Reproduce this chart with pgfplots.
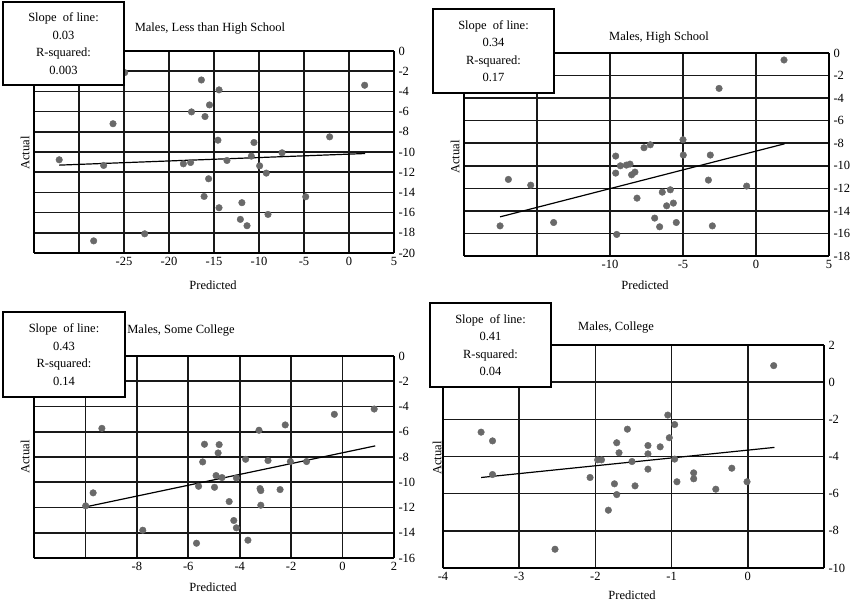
\documentclass[border=0pt]{standalone}
\usepackage{pgfplots}
\pgfplotsset{compat=1.18}
\usepackage{fontspec}
\setmainfont{Liberation Serif}
\definecolor{markgray}{RGB}{105,105,105}
\definecolor{gridc}{RGB}{25,25,25}
\newcommand{\fs}{\fontsize{12.5}{17.5}\selectfont}
\pgfplotsset{
  panel/.style={
    scale only axis,
    anchor=south west,
    separate axis lines,
    axis line style={line width=2pt, black},
    grid=major,
    grid style={line width=1.6pt, gridc},
    major grid style={line width=1.6pt, gridc},
    major tick length=0pt,
    yticklabel pos=right,
    tick label style={font=\fs},
    /pgf/number format/assume math mode=true,
    yticklabel style={xshift=1pt},
    xticklabel style={yshift=-1pt},
    clip=false,
  },
  pts/.style={only marks, mark=*, mark size=3.3pt, mark options={fill=markgray, draw=markgray}},
  trend/.style={black, line width=1.2pt, no marks},
}
\begin{document}
\begin{tikzpicture}
\useasboundingbox (0,0) rectangle (855pt,606pt);

% Panel 1
\begin{axis}[panel, at={(34pt,353pt)}, width=360pt, height=202pt,
  xmin=-35, xmax=5, ymin=-20, ymax=0,
  xtick={-35,-30,...,5}, xticklabels={,,-25,-20,-15,-10,-5,0,5},
  ytick={-20,-18,...,0}]
\addplot[pts] coordinates {
(-32.2,-10.77) (-28.37,-18.8) (-27.26,-11.33) (-26.22,-7.2) (-24.93,-2.14)
(-22.7,-18.1) (-18.4,-11.17) (-17.6,-11.04) (-17.5,-6.03) (-16.4,-2.87)
(-16.0,-6.49) (-16.1,-14.4) (-15.6,-12.65) (-15.5,-5.34) (-14.56,-8.83)
(-14.44,-3.85) (-14.44,-15.52) (-13.56,-10.84) (-12.07,-16.67) (-11.9,-15.02)
(-11.33,-17.3) (-10.85,-10.41) (-10.56,-9.06) (-9.93,-11.37) (-9.19,-12.09)
(-9.0,-16.18) (-7.44,-10.08) (-4.81,-14.43) (-2.15,-8.5) (1.74,-3.39)};
\addplot[trend] coordinates {(-32.2,-11.3) (1.8,-10.15)};
\end{axis}

% Panel 2
\begin{axis}[panel, at={(464pt,350pt)}, width=365pt, height=203pt,
  xmin=-20, xmax=5, ymin=-18, ymax=0,
  xtick={-20,-15,...,5}, xticklabels={,,-10,-5,0,5},
  ytick={-18,-16,...,0}]
\addplot[pts] coordinates {
(-17.53,-15.33) (-16.96,-11.21) (-15.43,-11.72) (-13.86,-15.03) (-9.61,-9.14)
(-9.61,-10.65) (-9.54,-16.09) (-9.29,-10.0) (-8.88,-9.94) (-8.63,-9.85)
(-8.52,-10.8) (-8.29,-10.56) (-8.15,-12.87) (-7.67,-8.4) (-7.24,-8.14)
(-6.94,-14.64) (-6.6,-15.41) (-6.42,-12.34) (-6.12,-13.55) (-5.87,-12.13)
(-5.66,-13.31) (-5.46,-15.03) (-5.0,-7.69) (-4.98,-9.05) (-3.26,-11.27)
(-3.13,-9.05) (-2.99,-15.33) (-2.53,-3.14) (-0.64,-11.8) (1.92,-0.62)};
\addplot[trend] coordinates {(-17.53,-14.53) (1.96,-8.05)};
\end{axis}

% Panel 3
\begin{axis}[panel, at={(34pt,48pt)}, width=360pt, height=202pt,
  xmin=-12, xmax=2, ymin=-16, ymax=0,
  xtick={-12,-10,...,2}, xticklabels={,,-8,-6,-4,-2,0,2},
  ytick={-16,-14,...,0}]
\addplot[pts] coordinates {
(-9.99,-11.87) (-9.7,-10.84) (-9.36,-5.73) (-7.77,-13.8) (-5.68,-14.83)
(-5.6,-10.32) (-5.44,-8.39) (-5.37,-6.99) (-4.98,-10.4) (-4.92,-9.47)
(-4.84,-7.68) (-4.8,-7.02) (-4.69,-9.63) (-4.41,-11.53) (-4.23,-13.03)
(-4.13,-13.61) (-4.13,-9.66) (-3.77,-8.18) (-3.68,-14.59) (-3.25,-5.88)
(-3.21,-10.5) (-3.18,-10.66) (-3.18,-11.82) (-2.9,-8.28) (-2.43,-10.58)
(-2.23,-5.46) (-2.03,-8.36) (-1.4,-8.36) (-0.32,-4.62) (1.23,-4.2)};
\addplot[trend] coordinates {(-9.99,-11.95) (1.27,-7.12)};
\end{axis}

% Panel 4
\begin{axis}[panel, at={(443pt,38pt)}, width=381pt, height=223pt,
  xmin=-4, xmax=1, ymin=-10, ymax=2,
  xtick={-4,-3,...,1}, xticklabels={-4,-3,-2,-1,0,},
  ytick={-10,-8,...,2}]
\addplot[pts] coordinates {
(-3.5,-2.69) (-3.35,-3.16) (-3.35,-4.97) (-2.53,-8.99) (-2.07,-5.13)
(-1.97,-4.18) (-1.92,-4.18) (-1.83,-6.89) (-1.75,-5.47) (-1.72,-3.26)
(-1.72,-6.05) (-1.69,-3.8) (-1.58,-2.53) (-1.52,-4.27) (-1.48,-5.58)
(-1.31,-3.41) (-1.31,-3.86) (-1.31,-4.68) (-1.15,-3.48) (-1.05,-1.77)
(-1.03,-2.99) (-0.96,-2.28) (-0.96,-4.14) (-0.93,-5.36) (-0.71,-4.88)
(-0.71,-5.2) (-0.42,-5.76) (-0.21,-4.63) (-0.01,-5.36) (0.34,0.89)};
\addplot[trend] coordinates {(-3.5,-5.13) (0.35,-3.51)};
\end{axis}

% Titles
\node[font=\fs] at (210pt,577pt) {Males, Less than High School};
\node[font=\fs] at (659pt,568pt) {Males, High School};
\node[font=\fs] at (181pt,275pt) {Males, Some College};
\node[font=\fs] at (616pt,278pt) {Males, College};
% Axis labels
\node[font=\fs] at (213pt,321pt) {Predicted};
\node[font=\fs] at (645pt,321pt) {Predicted};
\node[font=\fs] at (213pt,19pt) {Predicted};
\node[font=\fs] at (632pt,11pt) {Predicted};
\node[font=\fs, rotate=90] at (25pt,453pt) {Actual};
\node[font=\fs, rotate=90] at (455pt,449pt) {Actual};
\node[font=\fs, rotate=90] at (25pt,149pt) {Actual};
\node[font=\fs, rotate=90] at (437pt,148pt) {Actual};
% Annotation boxes
\draw[fill=white, line width=1.3pt] (3pt,604pt) rectangle (124pt,521pt);
\node[font=\fs, align=center] at (63.5pt,562.5pt) {Slope\ \ of line:\\0.03\\R-squared:\\0.003};
\draw[fill=white, line width=1.3pt] (433pt,597pt) rectangle (554pt,513pt);
\node[font=\fs, align=center] at (493.5pt,555pt) {Slope\ \ of line:\\0.34\\R-squared:\\0.17};
\draw[fill=white, line width=1.3pt] (3pt,294pt) rectangle (125pt,209pt);
\node[font=\fs, align=center] at (64pt,251.5pt) {Slope\ \ of line:\\0.43\\R-squared:\\0.14};
\draw[fill=white, line width=1.3pt] (430pt,303pt) rectangle (551pt,219pt);
\node[font=\fs, align=center] at (490.5pt,261pt) {Slope\ \ of line:\\0.41\\R-squared:\\0.04};
\end{tikzpicture}
\end{document}
